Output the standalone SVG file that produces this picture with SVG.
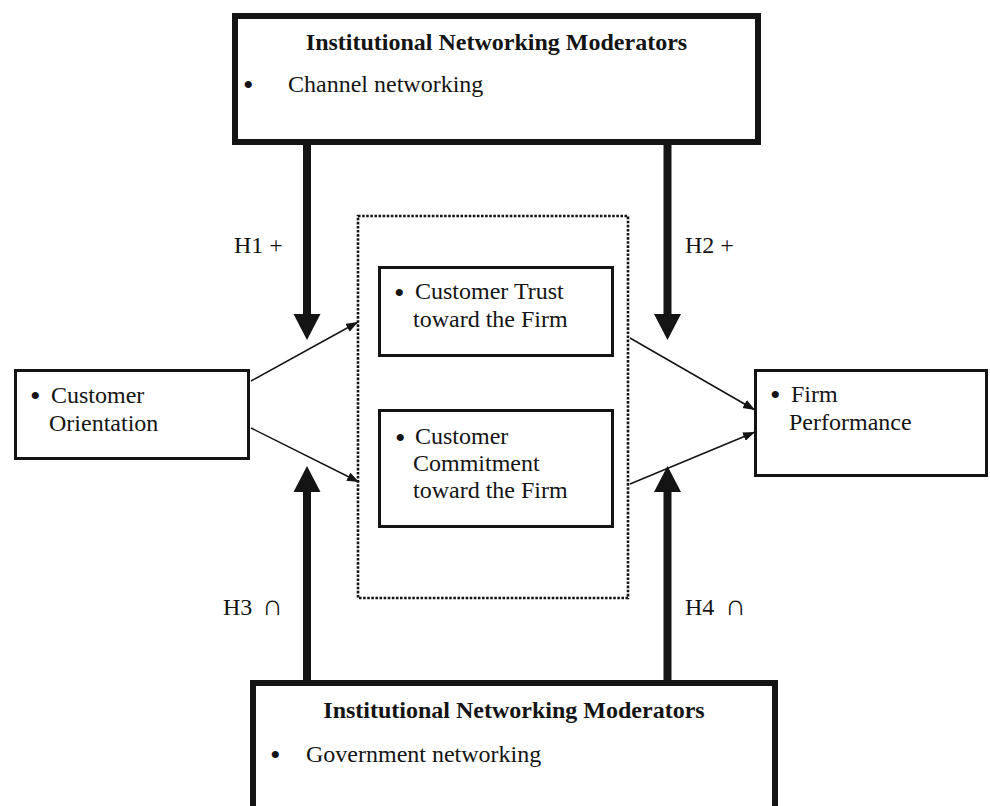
<svg xmlns="http://www.w3.org/2000/svg" width="990" height="806" viewBox="0 0 990 806">
<style>
  .bg { fill: #ffffff; }
  .heavy { fill: #ffffff; stroke: #141414; stroke-width: 6; }
  .box { fill: #ffffff; stroke: #141414; stroke-width: 3; }
  .dotted { fill: none; stroke: #141414; stroke-width: 2.6; stroke-dasharray: 2.6 1.5; }
  .t { font-family: "Liberation Serif", "Times New Roman", serif; font-size: 24px; fill: #141414; }
  .b { font-weight: bold; text-anchor: middle; }
  .bul { font-size: 30px; }
  .cap { font-size: 29px; }
  .thick { fill: #141414; }
  .thin { stroke: #141414; stroke-width: 1.5; fill: none; marker-end: url(#ah); }
</style>
<defs>
  <marker id="ah" markerUnits="userSpaceOnUse" markerWidth="13" markerHeight="10" refX="12" refY="4.5" orient="auto">
    <path d="M0,0 L12,4.5 L0,9 Z" fill="#141414"/>
  </marker>
</defs>
<rect class="bg" x="0" y="0" width="990" height="806"/>

<g id="mediators">
  <rect class="dotted" x="358" y="216" width="270" height="382"/>
</g>

<g id="top-moderator">
  <rect class="heavy" x="235" y="16" width="523" height="126"/>
  <text class="t b" x="496.5" y="50">Institutional Networking Moderators</text>
  <text class="t bul" x="243" y="95">•</text>
  <text class="t" x="288" y="92">Channel networking</text>
</g>

<g id="bottom-moderator">
  <rect class="heavy" x="253" y="683" width="522" height="140"/>
  <text class="t b" x="514" y="718">Institutional Networking Moderators</text>
  <text class="t bul" x="270" y="765">•</text>
  <text class="t" x="306" y="762">Government networking</text>
</g>

<g id="customer-orientation">
  <rect class="box" x="15.5" y="370.5" width="233" height="88"/>
  <text class="t bul" x="30" y="406">•</text>
  <text class="t" x="51" y="403">Customer</text>
  <text class="t" x="49" y="431">Orientation</text>
</g>

<g id="customer-trust">
  <rect class="box" x="379.5" y="267.5" width="233" height="88"/>
  <text class="t bul" x="394" y="303">•</text>
  <text class="t" x="415" y="299">Customer Trust</text>
  <text class="t" x="413" y="327">toward the Firm</text>
</g>

<g id="customer-commitment">
  <rect class="box" x="379.5" y="410.5" width="233" height="116"/>
  <text class="t bul" x="395" y="448">•</text>
  <text class="t" x="415" y="444">Customer</text>
  <text class="t" x="413" y="471">Commitment</text>
  <text class="t" x="413" y="498">toward the Firm</text>
</g>

<g id="firm-performance">
  <rect class="box" x="755.5" y="370.5" width="231" height="105"/>
  <text class="t bul" x="770" y="405">•</text>
  <text class="t" x="791" y="402">Firm</text>
  <text class="t" x="789" y="430">Performance</text>
</g>

<g id="connectors">
  <path class="thick" d="M303,144 H311 V314 H320.5 L307,340 L293.5,314 H303 Z"/>
  <path class="thick" d="M663.5,144 H671.5 V314 H681 L667.5,340 L654,314 H663.5 Z"/>
  <path class="thick" d="M303,681 V492 H293.5 L307,466 L320.5,492 H311 V681 Z"/>
  <path class="thick" d="M663.5,681 V492 H654 L667.5,466 L681,492 H671.5 V681 Z"/>
  <line class="thin" x1="251" y1="381" x2="358" y2="322"/>
  <line class="thin" x1="251" y1="428" x2="359" y2="482"/>
  <line class="thin" x1="630" y1="338" x2="755" y2="410"/>
  <line class="thin" x1="630" y1="484" x2="755" y2="432"/>
  <text class="t" x="234" y="253">H1 +</text>
  <text class="t" x="685" y="253">H2 +</text>
  <text class="t" x="223" y="615">H3 <tspan class="cap" x="262">∩</tspan></text>
  <text class="t" x="685" y="615">H4 <tspan class="cap" x="725">∩</tspan></text>
</g>
</svg>
